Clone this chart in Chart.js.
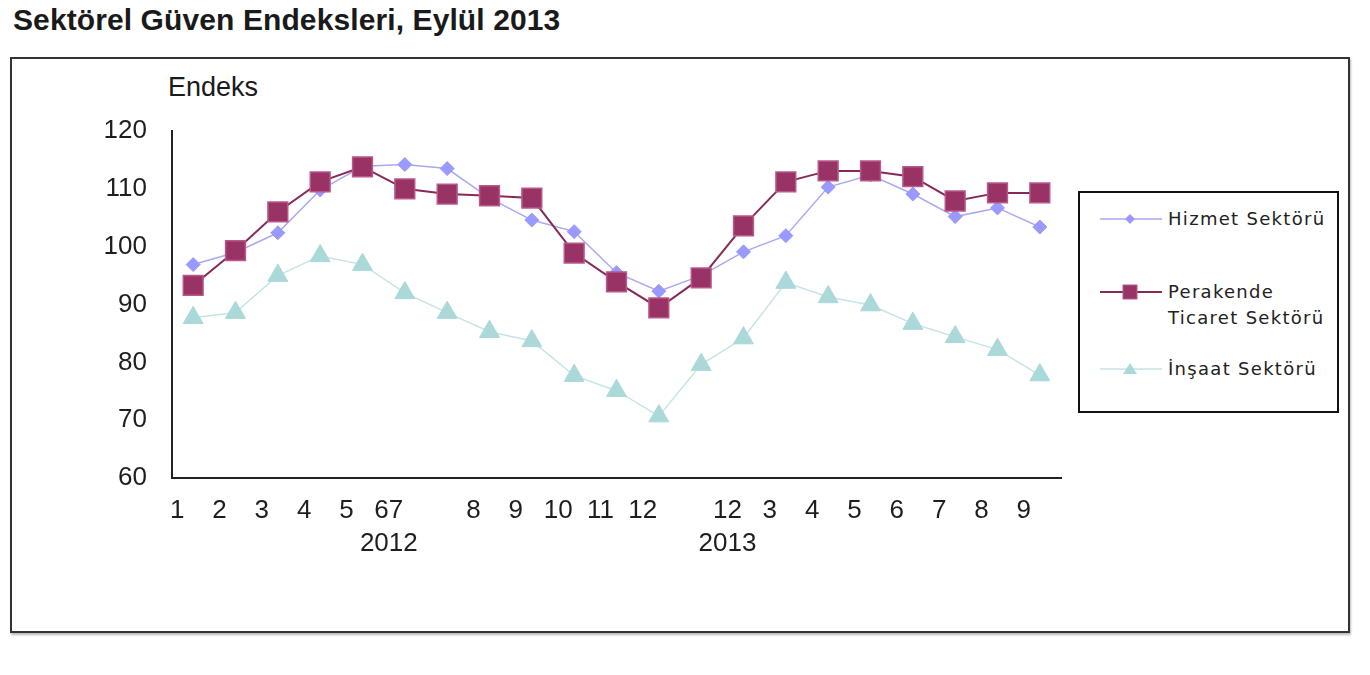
<!DOCTYPE html>
<html>
<head>
<meta charset="utf-8">
<script src="https://cdn.jsdelivr.net/npm/chart.js@4"></script>
<style>
  body { margin: 0; background: #fff; width: 1370px; height: 675px; position: relative; overflow: hidden; font-family: "Liberation Sans", Arial, sans-serif; color: #1a1a1a; }
  #title { position: absolute; left: 13px; top: 5px; font-size: 30px; font-weight: bold; line-height: 30px; letter-spacing: 0.1px; white-space: nowrap; }
  #frame { position: absolute; left: 10px; top: 57px; width: 1336px; height: 572px; border: 2px solid #333; box-shadow: 1px 2px 2px #bbb; }
  #yname { position: absolute; left: 168px; top: 74px; font-size: 27px; line-height: 27px; }
  #chart { position: absolute; left: 0; top: 0; }
  #legend { position: absolute; left: 1078px; top: 191px; width: 257px; height: 218px; border: 2px solid #111; background: #fff; font-family: "DejaVu Sans", Verdana, sans-serif; font-size: 18px; letter-spacing: 1.3px; color: #222; }
  .item { position: absolute; left: 20px; display: flex; align-items: flex-start; }
  .item svg { flex: none; }
  .item span { margin-left: 6px; line-height: 26px; white-space: nowrap; }
</style>
</head>
<body>
<div id="title">Sektörel Güven Endeksleri, Eylül 2013</div>
<div id="frame"></div>
<div id="yname">Endeks</div>
<canvas id="chart" width="1370" height="675"></canvas>
<div id="legend"></div>
<script>
// aylar: Ocak 2012 - Eylül 2013
const months = ['2012-01', '2012-02', '2012-03', '2012-04', '2012-05', '2012-06', '2012-07', '2012-08', '2012-09', '2012-10', '2012-11', '2012-12',
                '2013-01', '2013-02', '2013-03', '2013-04', '2013-05', '2013-06', '2013-07', '2013-08', '2013-09'];

// eksendeki yazılar (orijinaldeki gibi)
const tickLabels = ['1', '2', '3', '4', '5', ['67', '2012'], '', '8', '9', '10', '11', '12',
                    '', ['12', '2013'], '3', '4', '5', '6', '7', '8', '9'];

const yTicks = [60, 70, 80, 90, 100, 110, 120];

const hizmet = [96.9, 99.0, 102.4, 109.8, 113.9, 114.2, 113.5, 108.4, 104.6, 102.6, 95.5, 92.3,
                95.0, 99.1, 101.9, 110.3, 112.4, 109.1, 105.2, 106.7, 103.4];
const perakende = [93.3, 99.3, 106.0, 111.2, 113.8, 110.0, 109.1, 108.8, 108.4, 98.9, 93.9, 89.4,
                   94.6, 103.6, 111.2, 113.1, 113.1, 112.1, 107.9, 109.3, 109.3];
const insaat = [87.7, 88.6, 95.0, 98.4, 96.9, 92.0, 88.6, 85.3, 83.7, 77.7, 75.1, 70.7,
                79.6, 84.2, 93.8, 91.3, 89.9, 86.7, 84.4, 82.2, 77.8];

const seriesNames = ['Hizmet Sektörü', 'Perakende Ticaret Sektörü', 'İnşaat Sektörü'];

const datasets = [
    {
        label: seriesNames[0], data: hizmet, order: 1,
        borderColor: '#a9a9f2', borderWidth: 1.5,
        pointStyle: 'rectRot', pointRadius: 7, pointBackgroundColor: '#9999ff', pointBorderColor: '#9999ff', pointBorderWidth: 1
    },
    {
        label: seriesNames[1], data: perakende, order: 0,
        borderColor: '#862a58', borderWidth: 2,
        pointStyle: 'rect', pointRadius: 14, pointBackgroundColor: '#993366', pointBorderColor: '#b9588a', pointBorderWidth: 1.5
    },
    {
        label: seriesNames[2], data: insaat, order: 2,
        borderColor: '#c6e4e4', borderWidth: 1.5,
        pointStyle: 'triangle', pointRadius: 11.5, pointBackgroundColor: '#abd9d9', pointBorderColor: '#abd9d9', pointBorderWidth: 1
    }
];

Chart.defaults.font.family = '"Liberation Sans", Arial, sans-serif';
Chart.defaults.color = '#1e1e1e';

new Chart(document.getElementById('chart'), {
    type: 'line',
    data: { labels: months, datasets: datasets },
    options: {
        responsive: false,
        animation: false,
        layout: { padding: { left: 100, top: 131, right: 309, bottom: 97 } },
        plugins: { legend: { display: false }, tooltip: { enabled: false } },
        scales: {
            x: {
                offset: true,
                grid: { display: false, drawTicks: false },
                border: { display: true, color: '#222', width: 2 },
                ticks: {
                    autoSkip: false, maxRotation: 0, padding: 16, labelOffset: -16,
                    font: { size: 26, lineHeight: 1.27 },
                    callback: (v, i) => tickLabels[i]
                },
                afterFit: s => { s.height = 100; }
            },
            y: {
                min: 60, max: 120,
                grid: { display: false, drawTicks: false },
                border: { display: true, color: '#222', width: 2 },
                ticks: { padding: 25, font: { size: 26 } },
                afterBuildTicks: s => { s.ticks = yTicks.map(v => ({ value: v })); },
                afterFit: s => { s.width = 72; }
            }
        }
    }
});

// açıklama kutusu
function markerSvg(ds) {
    const c = 30;
    let shape = '';
    if (ds.pointStyle === 'rect') {
        shape = `<rect x="${c - 7}" y="6" width="14" height="14" fill="${ds.pointBackgroundColor}" stroke="${ds.pointBorderColor}"/>`;
    } else if (ds.pointStyle === 'rectRot') {
        shape = `<polygon points="${c - 5},13 ${c},8 ${c + 5},13 ${c},18" fill="${ds.pointBackgroundColor}"/>`;
    } else {
        shape = `<polygon points="${c},7 ${c + 7},18 ${c - 7},18" fill="${ds.pointBackgroundColor}"/>`;
    }
    return `<svg width="62" height="26"><line x1="0" y1="13" x2="62" y2="13" stroke="${ds.borderColor}" stroke-width="${ds.borderWidth}"/>${shape}</svg>`;
}

const legendTops = [13, 86, 163];
const legendTexts = ['Hizmet Sektörü', 'Perakende<br>Ticaret Sektörü', 'İnşaat Sektörü'];
const legend = document.getElementById('legend');
datasets.forEach((ds, i) => {
    const item = document.createElement('div');
    item.className = 'item';
    item.style.top = legendTops[i] + 'px';
    item.innerHTML = markerSvg(ds) + `<span>${legendTexts[i]}</span>`;
    legend.appendChild(item);
});
</script>
</body>
</html>
